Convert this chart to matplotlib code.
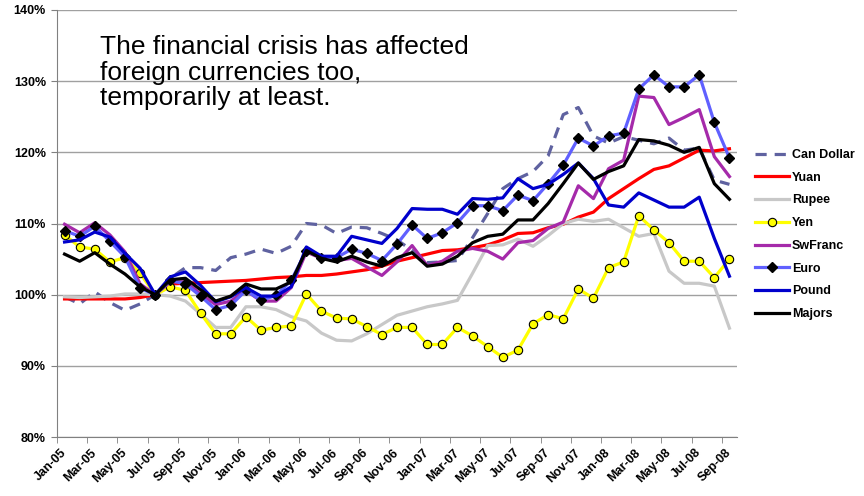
import numpy as np
import matplotlib
matplotlib.use('Agg')
from matplotlib import pyplot as plt
from matplotlib.ticker import FixedLocator, FuncFormatter

plt.rcParams['font.family'] = ['Liberation Sans', 'DejaVu Sans']

months = ['Jan-05', 'Feb-05', 'Mar-05', 'Apr-05', 'May-05', 'Jun-05', 'Jul-05', 'Aug-05', 'Sep-05',
          'Oct-05', 'Nov-05', 'Dec-05', 'Jan-06', 'Feb-06', 'Mar-06', 'Apr-06', 'May-06', 'Jun-06',
          'Jul-06', 'Aug-06', 'Sep-06', 'Oct-06', 'Nov-06', 'Dec-06', 'Jan-07', 'Feb-07', 'Mar-07',
          'Apr-07', 'May-07', 'Jun-07', 'Jul-07', 'Aug-07', 'Sep-07', 'Oct-07', 'Nov-07', 'Dec-07',
          'Jan-08', 'Feb-08', 'Mar-08', 'Apr-08', 'May-08', 'Jun-08', 'Jul-08', 'Aug-08', 'Sep-08']

can_dollar = [99.7, 98.7, 100.4, 98.9, 97.8, 98.7, 100.0, 102.3, 103.8, 103.8, 103.4, 105.2, 105.7,
              106.4, 105.8, 106.8, 110.0, 109.8, 108.6, 109.5, 109.4, 108.6, 107.7, 106.2, 104.5,
              104.6, 104.8, 108.0, 111.4, 114.9, 116.3, 117.3, 119.5, 125.3, 126.3, 122.3, 121.3,
              122.2, 121.7, 121.2, 122.0, 120.3, 120.6, 116.1, 115.5]
yuan = [99.4, 99.4, 99.4, 99.4, 99.4, 99.6, 100.0, 101.5, 101.6, 101.7, 101.8, 101.9, 102.0, 102.2,
        102.4, 102.5, 102.7, 102.7, 102.9, 103.2, 103.5, 104.0, 104.7, 105.2, 105.7, 106.2, 106.3,
        106.6, 107.0, 107.7, 108.6, 108.7, 109.4, 109.9, 110.9, 111.6, 113.5, 114.9, 116.3, 117.6,
        118.1, 119.2, 120.3, 120.2, 120.5]
rupee = [99.7, 99.6, 99.7, 99.8, 100.1, 100.1, 100.0, 99.8, 99.1, 97.3, 95.4, 95.4, 98.3, 98.3,
         97.9, 96.9, 96.3, 94.6, 93.6, 93.5, 94.5, 95.8, 97.1, 97.7, 98.3, 98.7, 99.2, 103.0, 106.9,
         107.0, 107.8, 106.8, 108.3, 110.0, 110.6, 110.3, 110.6, 109.4, 108.2, 108.6, 103.3, 101.6,
         101.6, 101.2, 95.3]
yen = [108.4, 106.7, 106.4, 104.6, 105.2, 103.0, 100.0, 101.1, 100.6, 97.4, 94.5, 94.5, 96.9, 95.0,
       95.4, 95.6, 100.1, 97.7, 96.7, 96.6, 95.5, 94.4, 95.4, 95.4, 93.0, 93.0, 95.4, 94.2, 92.7,
       91.2, 92.2, 95.9, 97.2, 96.6, 100.8, 99.5, 103.8, 104.6, 111.1, 109.1, 107.3, 104.7, 104.7,
       102.4, 105.0]
swfranc = [109.9, 108.7, 110.1, 108.4, 106.0, 101.5, 100.0, 101.8, 101.8, 100.1, 98.6, 99.1, 100.6,
           99.1, 99.1, 101.0, 106.0, 105.1, 104.8, 105.1, 103.9, 102.7, 104.6, 106.9, 104.1, 104.7,
           106.1, 106.5, 106.1, 105.0, 107.3, 107.6, 109.3, 110.2, 115.3, 113.5, 117.7, 118.9,
           127.9, 127.7, 123.9, 124.9, 126.0, 119.4, 116.6]
euro = [109.0, 108.2, 109.6, 107.5, 105.3, 100.9, 100.0, 102.0, 101.5, 99.8, 97.9, 98.5, 100.6, 99.2,
        99.9, 102.0, 106.2, 105.2, 105.2, 106.4, 105.8, 104.8, 107.1, 109.8, 107.9, 108.7, 110.1,
        112.5, 112.5, 111.8, 114.0, 113.2, 115.6, 118.2, 122.0, 120.9, 122.3, 122.7, 128.9, 130.9,
        129.2, 129.2, 130.9, 124.2, 119.2]
pound = [107.4, 107.7, 108.8, 108.1, 105.8, 103.7, 100.0, 102.5, 103.2, 101.3, 99.0, 99.7, 101.0,
         99.8, 99.8, 101.1, 106.7, 105.4, 105.4, 108.2, 107.7, 107.2, 109.3, 112.1, 112.0, 112.0,
         111.3, 113.5, 113.4, 113.6, 116.3, 114.9, 115.5, 116.9, 118.5, 116.3, 112.6, 112.3, 114.3,
         113.3, 112.3, 112.3, 113.7, 107.9, 102.6]
majors = [105.7, 104.7, 105.9, 104.3, 102.9, 101.1, 100.0, 102.1, 102.3, 100.7, 99.1, 99.8, 101.5,
          100.8, 100.8, 101.8, 106.2, 105.1, 104.6, 105.4, 104.6, 104.0, 105.2, 105.9, 104.0, 104.3,
          105.4, 107.3, 108.2, 108.5, 110.5, 110.5, 112.8, 115.6, 118.5, 116.2, 117.3, 118.1, 121.8,
          121.6, 121.0, 120.0, 120.7, 115.6, 113.4]

x = np.arange(len(months))

fig = plt.figure(figsize=(8.64, 4.96), dpi=100)
ax = fig.add_axes([57 / 864, 1 - 437 / 496, 680 / 864, 427 / 496])

lw = 2.3
ax.plot(x, can_dollar, color='#5F62A0', lw=lw, dashes=(3.5, 2.5), label='Can Dollar', zorder=3)
ax.plot(x, yuan, color='#FF0000', lw=lw, label='Yuan', zorder=3)
ax.plot(x, rupee, color='#C8C8C8', lw=lw, label='Rupee', zorder=3)
ax.plot(x, yen, color='#FFFF00', lw=lw, marker='o', ms=6, mfc='#FFFF00', mec='black',
        mew=0.8, label='Yen', zorder=3)
ax.plot(x, swfranc, color='#A52AAA', lw=lw, label='SwFranc', zorder=3)
ax.plot(x, euro, color='#6060FF', lw=lw, marker='D', ms=4.8, mfc='black', mec='black',
        label='Euro', zorder=3)
ax.plot(x, pound, color='#0000CC', lw=lw, label='Pound', zorder=3)
ax.plot(x, majors, color='black', lw=lw, label='Majors', zorder=3)

ax.set_xlim(-0.5, len(months) - 0.5)
ax.set_ylim(80, 140)
ax.set_yticks(np.arange(80, 141, 10))
ax.yaxis.set_major_formatter(FuncFormatter(lambda v, p: '%d%%' % v))
ax.grid(axis='y', color='#A0A0A0', lw=1, zorder=1)

ax.set_xticks(x[::2])
ax.set_xticklabels(months[::2], rotation=45, ha='right', va='center',
                   rotation_mode='anchor', fontweight='bold', fontsize=9)
ax.tick_params(axis='x', which='major', length=0, pad=10)
ax.xaxis.set_minor_locator(FixedLocator(np.arange(-0.5, len(months) - 1, 2)))
ax.tick_params(axis='x', which='minor', length=4, color='#808080')
ax.tick_params(axis='y', length=4, color='#808080', labelsize=9, pad=4)
for lab in ax.get_yticklabels():
    lab.set_fontweight('bold')

for s in ['top', 'right']:
    ax.spines[s].set_visible(False)
for s in ['left', 'bottom']:
    ax.spines[s].set_color('#808080')

fig.text(100 / 864, 1 - 35 / 496,
         'The financial crisis has affected\nforeign currencies too,\ntemporarily at least.',
         fontsize=19, va='top', ha='left', linespacing=1.08)

leg = fig.legend(loc='upper left', bbox_to_anchor=(755 / 864, 1 - 149 / 496), frameon=False,
                 prop={'weight': 'bold', 'size': 9}, handlelength=2.7, handletextpad=0.25,
                 labelspacing=0.86, borderpad=0, borderaxespad=0)

fig.savefig('out.png', dpi=100)
